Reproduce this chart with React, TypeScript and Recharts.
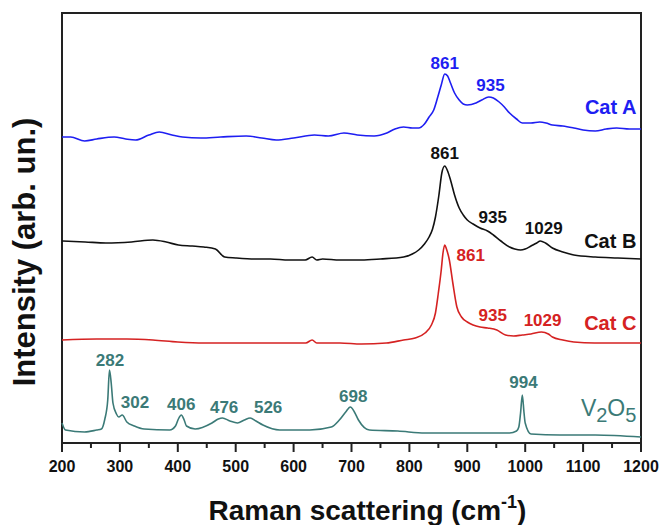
import React from "react";
import {
  LineChart,
  Line,
  XAxis,
  YAxis,
  ReferenceArea,
  ReferenceDot,
} from "recharts";

// wavenumbers (cm-1) and intensities (arb. units, offset stacked) per spectrum
const catAWavenumber = [200, 215, 239, 260, 290, 310, 327, 350, 368, 390, 408, 440, 474, 518, 545, 570, 600, 636, 660, 687, 710, 739, 761, 775, 790, 805, 816, 826, 834, 842, 849, 855, 861, 866, 871, 878, 886, 893, 900, 915, 925, 937, 945, 955, 964, 973, 985, 995, 1010, 1025, 1036, 1047, 1065, 1084, 1100, 1121, 1140, 1158, 1180, 1200];
const catAIntensity = [306, 306, 302, 304, 306, 304, 303, 308, 311, 308, 306, 305, 306, 307, 305, 303, 305, 308, 307, 310, 308, 307, 310, 314, 316, 315, 315, 319, 326, 333, 346, 358, 369, 367, 360, 350, 343, 339, 338, 340, 343, 346, 345, 341, 336, 330, 324, 320, 320, 321, 320, 318, 317, 315, 313, 312, 314, 315, 314, 314];

const catBWavenumber = [200, 240, 276, 320, 357, 380, 401, 425, 445, 465, 481, 500, 533, 560, 592, 620, 632, 640, 650, 680, 717, 750, 790, 805, 816, 826, 834, 840, 845, 851, 856, 861, 866, 871, 878, 886, 893, 900, 910, 922, 935, 945, 958, 973, 982, 992, 1000, 1010, 1020, 1026, 1035, 1047, 1065, 1084, 1121, 1160, 1200];
const catBIntensity = [202, 201, 200, 201, 203, 201, 198, 197, 196, 194, 186, 185, 184, 184, 183, 183, 186, 183, 184, 183, 183, 184, 186, 189, 193, 199, 206, 214, 226, 248, 270, 277, 272, 263, 248, 235, 228, 223, 219, 215, 212, 208, 202, 196, 194, 193, 194, 197, 200, 202, 200, 195, 191, 188, 186, 185, 184];

const catCWavenumber = [200, 260, 312, 357, 400, 445, 490, 533, 580, 621, 632, 640, 650, 680, 717, 760, 790, 810, 827, 838, 845, 850, 855, 858, 861, 864, 869, 875, 882, 890, 900, 910, 922, 935, 951, 966, 980, 995, 1010, 1028, 1040, 1047, 1065, 1084, 1120, 1200];
const catCIntensity = [103, 104, 104, 103, 101, 100, 100, 100, 100, 100, 103, 100, 100, 100, 99, 100, 103, 105, 110, 118, 130, 150, 173, 190, 198, 194, 183, 160, 136, 126, 121, 118, 116, 115, 113, 108, 107, 108, 109, 111, 109, 106, 103, 101, 100, 100];

const v2o5Wavenumber = [200, 206, 239, 260, 268, 274, 279, 282, 285, 288, 294, 298, 304, 312, 325, 342, 386, 396, 401, 406, 411, 415, 430, 459, 470, 477, 490, 503, 515, 525, 535, 547, 576, 628, 665, 679, 690, 698, 705, 712, 731, 780, 827, 900, 973, 985, 989, 992, 995, 998, 1000, 1010, 1060, 1121, 1200];
const v2o5Intensity = [20, 13, 11, 13, 14, 24, 43, 73, 60, 40, 29, 26, 28, 21, 17, 14, 13, 17, 24, 28, 23, 17, 14, 20, 24, 25, 22, 20, 23, 25, 22, 18, 13, 13, 16, 23, 31, 36, 31, 23, 13, 12, 10, 10, 10, 12, 16, 30, 48, 30, 20, 9, 8, 8, 6];

// peak annotations: label, wavenumber anchor, intensity anchor
const catAPeaks = [
  { text: "861", x: 861, y: 374 },
  { text: "935", x: 940, y: 352 },
];
const catBPeaks = [
  { text: "861", x: 861, y: 284 },
  { text: "935", x: 944, y: 220 },
  { text: "1029", x: 1032, y: 209 },
];
const catCPeaks = [
  { text: "861", x: 906, y: 182 },
  { text: "935", x: 944, y: 122 },
  { text: "1029", x: 1030, y: 117 },
];
const v2o5Peaks = [
  { text: "282", x: 283, y: 77 },
  { text: "302", x: 326, y: 35 },
  { text: "406", x: 406, y: 33 },
  { text: "476", x: 480, y: 30 },
  { text: "526", x: 556, y: 30 },
  { text: "698", x: 703, y: 41 },
  { text: "994", x: 997, y: 55 },
];

const xTicks = [200, 250, 300, 350, 400, 450, 500, 550, 600, 650, 700, 750, 800, 850, 900, 950, 1000, 1050, 1100, 1150, 1200];

const BLUE = "#1e1ef2";
const BLACK = "#111111";
const RED = "#d52222";
const TEAL = "#3b7a77";
const FONT = "'Liberation Sans', Arial, sans-serif";

const toSeries = (xs: number[], ys: number[]) => xs.map((x, i) => ({ x, y: ys[i] }));

const XTick = (props: any) => {
  const { x, y, payload } = props;
  const major = payload.value % 100 === 0;
  return (
    <g>
      <line x1={x} x2={x} y1={y} y2={y + (major ? 9 : 5)} stroke="#222" strokeWidth={2} />
      {major && (
        <text x={x} y={y + 29} textAnchor="middle" fontSize={16} fontWeight={700} fontFamily={FONT} fill="#111">
          {payload.value}
        </text>
      )}
    </g>
  );
};

const peakLabel = (text: string, color: string, size = 17, anchor = "middle") => (p: any) => (
  <text x={p.cx} y={p.cy} textAnchor={anchor} fontSize={size} fontWeight={700} fontFamily={FONT} fill={color}>
    {text}
  </text>
);

const renderPeaks = (peaks: { text: string; x: number; y: number }[], color: string, key: string) =>
  peaks.map((p) => (
    <ReferenceDot key={key + p.text} x={p.x} y={p.y} r={0} shape={peakLabel(p.text, color)} />
  ));

export default function App() {
  const catA = toSeries(catAWavenumber, catAIntensity);
  const catB = toSeries(catBWavenumber, catBIntensity);
  const catC = toSeries(catCWavenumber, catCIntensity);
  const v2o5 = toSeries(v2o5Wavenumber, v2o5Intensity);

  return (
    <div style={{ position: "absolute", left: 0, top: 0, width: 666, height: 525, background: "#fff" }}>
      <LineChart width={666} height={525} margin={{ top: 13, right: 25, bottom: 0, left: 0 }}>
        {/* frame */}
        <ReferenceArea x1={200} x2={1200} y1={0} y2={430} fill="none" stroke="#222" strokeWidth={2} />

        <XAxis
          type="number"
          dataKey="x"
          domain={[200, 1200]}
          ticks={xTicks}
          interval={0}
          height={82}
          axisLine={false}
          tickLine={false}
          tickSize={0}
          tickMargin={0}
          tick={<XTick />}
          label={{
            content: (lp: any) => {
              const vb = lp.viewBox;
              return (
                <text x={vb.x + vb.width / 2 + 16} y={520} textAnchor="middle" fontSize={28} fontWeight={700} fontFamily={FONT} fill="#111">
                  Raman scattering (cm
                  <tspan dy={-12} fontSize={18}>-1</tspan>
                  <tspan dy={12}>)</tspan>
                </text>
              );
            },
          }}
        />
        <YAxis
          type="number"
          domain={[0, 430]}
          allowDataOverflow
          width={62}
          tick={false}
          axisLine={false}
          tickLine={false}
          label={{
            content: () => (
              <text x={0} y={0} transform="translate(35, 252) rotate(-90)" textAnchor="middle" fontSize={31} fontWeight={700} fontFamily={FONT} fill="#111">
                Intensity (arb. un.)
              </text>
            ),
          }}
        />

        <Line data={catA} dataKey="y" type="monotone" stroke={BLUE} strokeWidth={1.6} dot={false} isAnimationActive={false} />
        <Line data={catB} dataKey="y" type="monotone" stroke={BLACK} strokeWidth={1.6} dot={false} isAnimationActive={false} />
        <Line data={catC} dataKey="y" type="monotone" stroke={RED} strokeWidth={1.6} dot={false} isAnimationActive={false} />
        <Line data={v2o5} dataKey="y" type="monotone" stroke={TEAL} strokeWidth={1.6} dot={false} isAnimationActive={false} />

        {renderPeaks(catAPeaks, BLUE, "a")}
        {renderPeaks(catBPeaks, BLACK, "b")}
        {renderPeaks(catCPeaks, RED, "c")}
        {renderPeaks(v2o5Peaks, TEAL, "v")}

        <ReferenceDot x={1192} y={329} r={0} shape={peakLabel("Cat A", BLUE, 20, "end")} />
        <ReferenceDot x={1192} y={195} r={0} shape={peakLabel("Cat B", BLACK, 20, "end")} />
        <ReferenceDot x={1192} y={113} r={0} shape={peakLabel("Cat C", RED, 20, "end")} />
        <ReferenceDot
          x={1192}
          y={27}
          r={0}
          shape={(p: any) => (
            <text x={p.cx} y={p.cy} textAnchor="end" fontSize={23} fontFamily={FONT} fill={TEAL}>
              V<tspan dy={6} fontSize={20}>2</tspan>
              <tspan dy={-6}>O</tspan>
              <tspan dy={6} fontSize={20}>5</tspan>
            </text>
          )}
        />
      </LineChart>
    </div>
  );
}
